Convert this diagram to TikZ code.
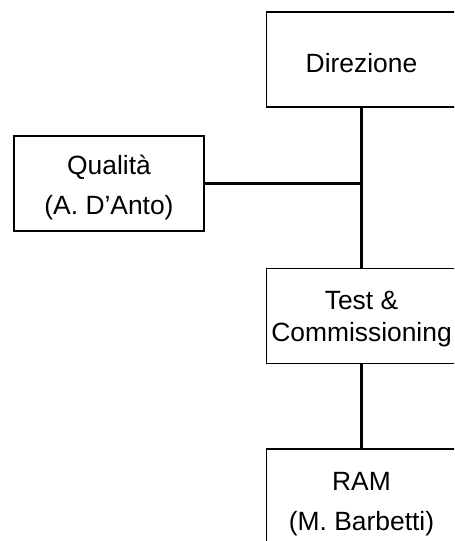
\documentclass[tikz,border=0pt]{standalone}
\usepackage{fontspec}
\setmainfont{Liberation Sans}
\tikzset{
  unitbox/.style 2 args={draw=black,line width=1.2pt,fill=white,inner sep=0pt,
    minimum width=142.5pt,minimum height=71.25pt,
    label={[unittext,#2]center:{#1}}},
  unittext/.style={align=center,inner sep=0pt,yshift=-2.7pt,
    font=\fontsize{19.8}{30}\selectfont},
  link/.style={draw=black,line width=2.5pt}
}
\begin{document}
\begin{tikzpicture}[x=0.75pt,y=-0.75pt]
\useasboundingbox (0,0) rectangle (454,541);
\clip (0,0) rectangle (454,541);

\node[unitbox={Direzione}{}] (Dir) at (361.5,59.5) {};% Top box
\node[unitbox={Qualità\\(A. D’Anto)}{}] (Qual) at (109,183.5) {};% Staff box
\node[unitbox={Test \&\\Commissioning}{font=\fontsize{19.8}{24}\selectfont}] (TC) at (361.5,316) {};
\node[unitbox={RAM\\(M. Barbetti)}{yshift=-2.9pt}] (RAM) at (361.5,496.5) {};% Bottom box, cut by the page

\coordinate (J) at (Dir.south |- Qual.east);
\draw[link] (Dir.south) -- (TC.north);
\draw[link] (Qual.east) -- (J);
\draw[link] (TC.south) -- (RAM.north);
\end{tikzpicture}
\end{document}
